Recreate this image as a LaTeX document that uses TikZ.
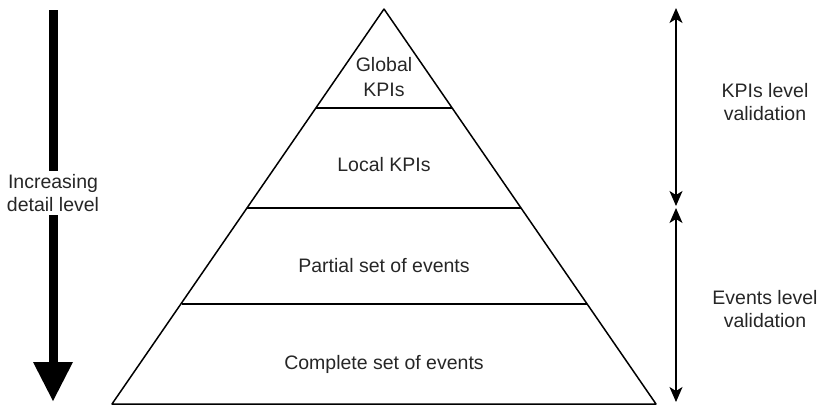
\documentclass[tikz,border=0pt]{standalone}
\usepackage{fontspec}
\setmainfont{Liberation Sans}
\usetikzlibrary{arrows.meta}
\begin{document}
\begin{tikzpicture}[x=1pt,y=-1pt,
  lbl/.style={align=center,font=\fontsize{19.5}{23}\selectfont,text=black!85,inner sep=1pt},
  edge/.style={line width=1.5pt,line join=round},
  tip/.style={Stealth[length=15pt,width=13pt,inset=4pt]},
  dbl/.style={line width=1.3pt,{Stealth[length=15pt,width=13pt,inset=4pt]}-{Stealth[length=15pt,width=13pt,inset=4pt]}}]
\useasboundingbox (0,0) rectangle (819,407);
% pyramid corners
\coordinate (apex) at (384,9);
\coordinate (bl) at (112,404);
\coordinate (br) at (656,404);
\coordinate (l1) at (316,108); \coordinate (r1) at (452,108);
\coordinate (l2) at (247,208); \coordinate (r2) at (521,208);
\coordinate (l3) at (182,304); \coordinate (r3) at (587,304);
\draw[edge] (apex) -- (bl) -- (br) -- cycle;
\draw[edge] (l1) -- (r1);
\draw[edge] (l2) -- (r2);
\draw[edge] (l3) -- (r3);
\node[lbl,font=\fontsize{19.5}{25}\selectfont] (g) at (384,77) {Global\\KPIs};
\node[lbl] (lk) at (384,165) {Local KPIs};
\node[lbl] (ps) at (384,266) {Partial set of events};
\node[lbl] (cs) at (384,364) {Complete set of events};
% left thick arrow
\coordinate (ltop) at (53,10);
\coordinate (lhead) at (53,363);
\coordinate (ltip) at (53,401);
\draw[line width=9pt] (ltop) -- (lhead);
\fill (33,362) -- (73,362) -- (ltip) -- cycle;
\node[lbl,fill=white,inner sep=3pt] (inc) at (53,193) {Increasing\\detail level};
% right arrows
\coordinate (a1) at (676,8);
\coordinate (a2) at (676,206);
\coordinate (a3) at (676,208);
\coordinate (a4) at (676,402);
\draw[dbl] (a1) -- (a2);
\draw[dbl] (a3) -- (a4);
\node[lbl] (kv) at (765,102) {KPIs level\\validation};
\node[lbl] (ev) at (765,309) {Events level\\validation};
\end{tikzpicture}
\end{document}
